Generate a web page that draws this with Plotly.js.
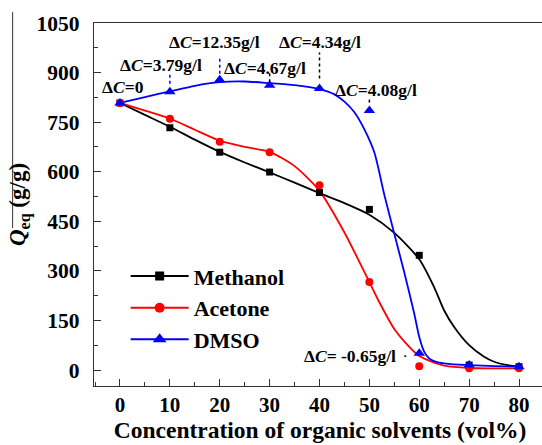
<!DOCTYPE html>
<html><head><meta charset="utf-8">
<script src="https://cdn.plot.ly/plotly-3.0.1.min.js"></script>
<style>html,body{margin:0;padding:0;overflow:hidden;background:#fff}#chart{width:550px;height:445px}</style>
</head><body><div id="chart"></div>
<script>
// measured points
const concX = [0, 10, 20, 30, 40, 50, 60, 70, 80];
const methanolQ = [808, 733, 659, 599, 537, 486, 347, 15, 10];
const acetoneQ = [808, 760, 691, 659, 559, 266, 11, 5, 5];
const dmsoQ = [808, 842, 878, 862, 852, 785, 51, 15, 10];
const seriesNames = ['Methanol', 'Acetone', 'DMSO'];

// smoothed fit curves
const methanolFitX = [0, 5, 10, 15, 20, 25, 30, 35, 40, 45, 50, 55, 60, 63, 65, 67, 70, 73, 75, 78, 80];
const methanolFitQ = [808, 772, 736, 697, 660, 628, 598, 567, 535, 505, 470, 415, 335, 250, 180, 130, 75, 40, 25, 14, 11];
const acetoneFitX = [0, 5, 10, 15, 20, 25, 30, 35, 40, 45, 50, 52, 55, 58, 60, 63, 65, 70, 75, 80];
const acetoneFitQ = [808, 785, 761, 727, 694, 675, 660, 617, 542, 416, 266, 205, 124, 70, 42, 22, 13, 6, 5, 5];
const dmsoFitX = [0, 5, 10, 15, 20, 25, 30, 35, 40, 43, 45, 47, 49, 51, 53, 55, 57, 59, 60, 61, 62, 64, 67, 70, 75, 80];
const dmsoFitQ = [808, 826, 843, 860, 871, 873, 868, 862, 850, 834, 812, 780, 728, 658, 530, 412, 295, 170, 100, 55, 35, 22, 17, 15, 12, 10];

// concentration change labels (DMSO points)
const deltaCLabels = ['Δ<i>C</i>=0', 'Δ<i>C</i>=3.79g/l', 'Δ<i>C</i>=12.35g/l', 'Δ<i>C</i>=4.67g/l',
  'Δ<i>C</i>=4.34g/l', 'Δ<i>C</i>=4.08g/l', 'Δ<i>C</i>= -0.65g/l'];

const FONT = 'Liberation Serif';
const colors = ['#000000', '#ff0000', '#0000ff'];
const symbols = ['square', 'circle', 'triangle-up'];
const msizes = [7, 8, 10];
const pts = [methanolQ, acetoneQ, dmsoQ];
const fits = [[methanolFitX, methanolFitQ], [acetoneFitX, acetoneFitQ], [dmsoFitX, dmsoFitQ]];

const traces = [];
for (let i = 0; i < 3; i++) {
  traces.push({x: fits[i][0], y: fits[i][1], mode: 'lines', type: 'scatter', showlegend: false,
    line: {color: colors[i], width: 1.8, shape: 'spline', smoothing: 0.7}, hoverinfo: 'skip'});
}
for (let i = 0; i < 3; i++) {
  traces.push({x: concX, y: pts[i], mode: 'markers', type: 'scatter', showlegend: false, name: seriesNames[i],
    marker: {color: colors[i], symbol: symbols[i], size: msizes[i]}});
}
// legend entries
for (let i = 0; i < 3; i++) {
  traces.push({x: [null], y: [null], mode: 'lines+markers', type: 'scatter', name: seriesNames[i],
    line: {color: colors[i], width: 2}, marker: {color: colors[i], symbol: symbols[i], size: msizes[i] + 2}});
}

// label offsets in px relative to the DMSO points
const lblShift = [[3, 16], [-9, 27], [-5, 38], [-5, 17], [0, 46], [7, 21], [-69, -3]];
const annotations = deltaCLabels.map((t, i) => ({
  x: concX[i], y: dmsoQ[i], xref: 'x', yref: 'y', text: t, showarrow: false,
  xshift: lblShift[i][0], yshift: lblShift[i][1],
  font: {family: FONT, size: 17.5, color: '#000', weight: 'bold'}
}));

// dotted leaders (px offsets, anchored at data points)
const leaderSpec = [[1, 8, 17, '#0000ff'], [2, 6, 23, '#0000ff'], [3, 3, 12, '#000'], [4, 10, 36, '#000'], [5, 8, 12, '#000']];
const shapes = leaderSpec.map(s => ({
  type: 'line', xref: 'x', yref: 'y', xsizemode: 'pixel', ysizemode: 'pixel',
  xanchor: concX[s[0]], yanchor: dmsoQ[s[0]], x0: 0, x1: 0, y0: s[1], y1: s[2],
  line: {color: s[3], width: 1.5, dash: 'dot'}
}));
shapes.push({type: 'line', xref: 'x', yref: 'y', xsizemode: 'pixel', ysizemode: 'pixel',
  xanchor: concX[6], yanchor: dmsoQ[6], x0: -15, x1: -13, y0: -3, y1: -3,
  line: {color: '#000', width: 1.5, dash: 'dot'}});
// overline of the y title
shapes.push({type: 'line', xref: 'paper', yref: 'paper', x0: -0.180, x1: -0.180, y0: 0.435, y1: 1.03,
  line: {color: '#333', width: 1}});

const layout = {
  width: 550, height: 445,
  margin: {l: 94, r: 4, t: 23, b: 59},
  paper_bgcolor: '#fff', plot_bgcolor: '#fff',
  font: {family: FONT, size: 20, color: '#000', weight: 'bold'},
  xaxis: {
    range: [-5.21, 85.41], tickvals: [0, 10, 20, 30, 40, 50, 60, 70, 80],
    ticks: 'inside', ticklen: 7, tickwidth: 1, tickcolor: '#333',
    minor: {dtick: 5, ticks: 'inside', ticklen: 4, tickcolor: '#333'},
    showline: true, mirror: true, linecolor: '#333', linewidth: 1.2,
    showgrid: false, zeroline: false,
    tickfont: {family: FONT, size: 21, color: '#000', weight: 'bold'},
    ticklabelstandoff: 0,
    title: {text: 'Concentration of organic solvents (vol%)', font: {family: FONT, size: 23.5, color: '#000', weight: 'bold'}, standoff: 0}
  },
  yaxis: {
    range: [-48.4, 1050], tickvals: [0, 150, 300, 450, 600, 750, 900, 1050],
    ticks: 'inside', ticklen: 7, tickwidth: 1, tickcolor: '#333',
    minor: {dtick: 75, ticks: 'inside', ticklen: 4, tickcolor: '#333'},
    showline: true, mirror: true, linecolor: '#333', linewidth: 1.2,
    showgrid: false, zeroline: false,
    tickfont: {family: FONT, size: 21.5, color: '#000', weight: 'bold'},
    ticklabelstandoff: 9,
    title: {text: '<i>Q</i><sub>eq</sub> (g/g)', font: {family: FONT, size: 23, color: '#000', weight: 'bold'}, standoff: 4}
  },
  legend: {x: 0.07, y: 0.36, xanchor: 'left', yanchor: 'top', bgcolor: 'rgba(0,0,0,0)',
    itemwidth: 58, tracegroupgap: 0,
    font: {family: FONT, size: 22, color: '#000', weight: 'bold'}},
  annotations: annotations,
  shapes: shapes,
  showlegend: true
};

Plotly.newPlot('chart', traces, layout, {displayModeBar: false, staticPlot: true});
</script></body></html>
